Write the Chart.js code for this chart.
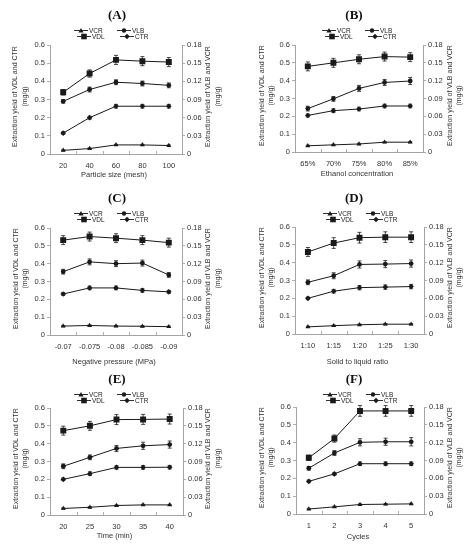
<!DOCTYPE html>
<html><head><meta charset="utf-8">
<script src="https://cdn.jsdelivr.net/npm/chart.js@4.4.1/dist/chart.umd.min.js"></script>
<style>
body{margin:0;background:#fff;width:473px;height:550px;overflow:hidden;position:relative;font-family:"Liberation Sans",Arial,sans-serif;color:#222}
.panel{position:absolute;width:236px;height:183px}
.panel canvas{position:absolute;left:0;top:0}
.ttl{position:absolute;width:60px;text-align:center;font-family:"Liberation Serif","Times New Roman",serif;font-weight:bold;font-size:13px;line-height:13px;color:#111}
.li{position:absolute;height:7px;font-size:6.5px;line-height:7px;white-space:nowrap;display:flex;align-items:center;color:#222}
.li svg{display:block;margin-right:1px}
</style></head>
<body>
<script>
// ---------- data ----------
const seriesNames = ['VCR', 'VLB', 'VDL', 'CTR'];
const panelTitles = ['(A)', '(B)', '(C)', '(D)', '(E)', '(F)'];
const xTitles = ['Particle size (mesh)', 'Ethanol concentration', 'Negative pressure (MPa)', 'Solid to liquid ratio', 'Time (min)', 'Cycles'];
const leftTitle = ['Extraction yield of VDL and CTR', '(mg/g)'];
const rightTitle = ['Extraction yield of VLB and VCR', '(mg/g)'];
const leftTicks = [0, 0.1, 0.2, 0.3, 0.4, 0.5, 0.6];
const rightTicks = [0, 0.03, 0.06, 0.09, 0.12, 0.15, 0.18];

// (A) particle size
const catsA = ['20', '40', '60', '80', '100'];
const vdlA = [0.34, 0.443, 0.518, 0.511, 0.506];
const vlbA = [0.087, 0.1065, 0.1185, 0.1164, 0.1134];
const ctrA = [0.115, 0.2, 0.263, 0.263, 0.263];
const vcrA = [0.006, 0.009, 0.015, 0.015, 0.014];
const vdlErrA = [0.015, 0.02, 0.025, 0.025, 0.025];
const vlbErrA = [0.003, 0.004, 0.004, 0.004, 0.004];
const ctrErrA = [0.007, 0.008, 0.01, 0.01, 0.01];
const vcrErrA = [0.001, 0.001, 0.001, 0.001, 0.001];

// (B) ethanol concentration
const catsB = ['65%', '70%', '75%', '80%', '85%'];
const vdlB = [0.48, 0.5, 0.52, 0.535, 0.532];
const vlbB = [0.073, 0.0894, 0.107, 0.117, 0.1194];
const ctrB = [0.205, 0.232, 0.241, 0.258, 0.258];
const vcrB = [0.0105, 0.012, 0.0135, 0.0165, 0.0165];
const vdlErrB = [0.025, 0.025, 0.025, 0.025, 0.025];
const vlbErrB = [0.004, 0.004, 0.005, 0.005, 0.006];
const ctrErrB = [0.008, 0.01, 0.01, 0.01, 0.01];
const vcrErrB = [0.001, 0.001, 0.001, 0.001, 0.001];

// (C) negative pressure
const catsC = ['-0.07', '-0.075', '-0.08', '-0.085', '-0.09'];
const vdlC = [0.532, 0.552, 0.543, 0.532, 0.518];
const vlbC = [0.1065, 0.123, 0.12, 0.121, 0.101];
const ctrC = [0.23, 0.264, 0.264, 0.25, 0.242];
const vcrC = [0.015, 0.016, 0.015, 0.0147, 0.014];
const vdlErrC = [0.025, 0.025, 0.025, 0.025, 0.025];
const vlbErrC = [0.004, 0.005, 0.005, 0.005, 0.004];
const ctrErrC = [0.008, 0.01, 0.01, 0.01, 0.008];
const vcrErrC = [0.001, 0.001, 0.001, 0.001, 0.001];

// (D) solid to liquid ratio
const catsD = ['1:10', '1:15', '1:20', '1:25', '1:30'];
const vdlD = [0.46, 0.51, 0.54, 0.543, 0.543];
const vlbD = [0.087, 0.098, 0.117, 0.1176, 0.1185];
const ctrD = [0.2, 0.24, 0.26, 0.263, 0.266];
const vcrD = [0.012, 0.014, 0.0156, 0.0165, 0.0165];
const vdlErrD = [0.025, 0.03, 0.03, 0.03, 0.03];
const vlbErrD = [0.004, 0.005, 0.006, 0.006, 0.006];
const ctrErrD = [0.007, 0.01, 0.012, 0.012, 0.012];
const vcrErrD = [0.001, 0.001, 0.001, 0.001, 0.001];

// (E) time
const catsE = ['20', '25', '30', '35', '40'];
const vdlE = [0.473, 0.5, 0.535, 0.536, 0.538];
const vlbE = [0.082, 0.097, 0.112, 0.1164, 0.1185];
const ctrE = [0.2, 0.232, 0.267, 0.267, 0.268];
const vcrE = [0.011, 0.013, 0.016, 0.017, 0.017];
const vdlErrE = [0.025, 0.025, 0.028, 0.028, 0.028];
const vlbErrE = [0.004, 0.004, 0.005, 0.006, 0.006];
const ctrErrE = [0.007, 0.01, 0.01, 0.01, 0.01];
const vcrErrE = [0.001, 0.001, 0.001, 0.001, 0.001];

// (F) cycles
const catsF = ['1', '2', '3', '4', '5'];
const vdlF = [0.315, 0.423, 0.578, 0.578, 0.578];
const vlbF = [0.077, 0.1026, 0.1206, 0.1215, 0.1215];
const ctrF = [0.183, 0.225, 0.282, 0.282, 0.282];
const vcrF = [0.0084, 0.012, 0.016, 0.0165, 0.017];
const vdlErrF = [0.015, 0.02, 0.03, 0.03, 0.03];
const vlbErrF = [0.003, 0.004, 0.006, 0.006, 0.007];
const ctrErrF = [0.007, 0.008, 0.01, 0.01, 0.01];
const vcrErrF = [0.001, 0.001, 0.001, 0.001, 0.001];

// ---------- layout ----------
const FONT = '"Liberation Sans", Arial, sans-serif';
const INK = '#1a1a1a';
const TXT = '#333';
const AXIS = '#9a9a9a';
const panels = [
  {cats: catsA, vdl: vdlA, vlb: vlbA, ctr: ctrA, vcr: vcrA, e: [vdlErrA, vlbErrA, ctrErrA, vcrErrA],
   x: 0, y: 0, L: 50, R: 182, T: 45, B: 154, lx: [15, 25], rx: [208, 218], xy: 175, legX: 74},
  {cats: catsB, vdl: vdlB, vlb: vlbB, ctr: ctrB, vcr: vcrB, e: [vdlErrB, vlbErrB, ctrErrB, vcrErrB],
   x: 237, y: 0, L: 58, R: 186, T: 45, B: 152, lx: [25, 34], rx: [213, 222], xy: 174, legX: 85},
  {cats: catsC, vdl: vdlC, vlb: vlbC, ctr: ctrC, vcr: vcrC, e: [vdlErrC, vlbErrC, ctrErrC, vcrErrC],
   x: 0, y: 183, L: 50, R: 182, T: 45, B: 152, lx: [16, 25], rx: [208, 218], xy: 179, legX: 74},
  {cats: catsD, vdl: vdlD, vlb: vlbD, ctr: ctrD, vcr: vcrD, e: [vdlErrD, vlbErrD, ctrErrD, vcrErrD],
   x: 237, y: 183, L: 58, R: 187, T: 44, B: 151, lx: [25, 34], rx: [213, 222], xy: 179, legX: 86},
  {cats: catsE, vdl: vdlE, vlb: vlbE, ctr: ctrE, vcr: vcrE, e: [vdlErrE, vlbErrE, ctrErrE, vcrErrE],
   x: 0, y: 364, L: 50, R: 183, T: 44, B: 151, lx: [16, 25], rx: [208, 218], xy: 172, legX: 74},
  {cats: catsF, vdl: vdlF, vlb: vlbF, ctr: ctrF, vcr: vcrF, e: [vdlErrF, vlbErrF, ctrErrF, vcrErrF],
   x: 237, y: 364, L: 59, R: 187, T: 43, B: 150, lx: [25, 34], rx: [213, 222], xy: 173, legX: 86}
];
const PW = 236, PH = 183;

const markerStyle = {
  VCR: {ps: 'triangle', r: 2.8},
  VLB: {ps: 'circle', r: 2.4},
  VDL: {ps: 'rect', r: 4.2},
  CTR: {ps: 'rectRot', r: 2.8}
};

const errPlugin = {
  id: 'errbars',
  afterDatasetsDraw(chart) {
    const ctx = chart.ctx;
    ctx.save();
    ctx.strokeStyle = INK; ctx.lineWidth = 0.8;
    chart.data.datasets.forEach((ds, di) => {
      if (!ds.err) return;
      const meta = chart.getDatasetMeta(di);
      const ys = chart.scales[ds.yAxisID];
      meta.data.forEach((pt, i) => {
        const v = ds.data[i], e = ds.err[i];
        const y1 = ys.getPixelForValue(v + e), y2 = ys.getPixelForValue(v - e);
        ctx.beginPath();
        ctx.moveTo(pt.x, y1); ctx.lineTo(pt.x, y2);
        ctx.moveTo(pt.x - 2, y1); ctx.lineTo(pt.x + 2, y1);
        ctx.moveTo(pt.x - 2, y2); ctx.lineTo(pt.x + 2, y2);
        ctx.stroke();
      });
    });
    ctx.restore();
  }
};

// inward x-axis tick marks at the category boundaries, plus axis titles
const titlePlugin = {
  id: 'axisTitles',
  afterDraw(chart, args, o) {
    const ctx = chart.ctx, ca = chart.chartArea;
    const xs = chart.scales.x;
    ctx.save();
    ctx.strokeStyle = AXIS; ctx.lineWidth = 0.8;
    const n = chart.data.labels.length;
    const half = (xs.getPixelForValue(1) - xs.getPixelForValue(0)) / 2;
    ctx.beginPath();
    for (let i = 0; i < n - 1; i++) {
      const px = Math.round(xs.getPixelForValue(i) + half) + 0.5;
      ctx.moveTo(px, ca.bottom); ctx.lineTo(px, ca.bottom - 3);
    }
    ctx.stroke();

    ctx.fillStyle = TXT; ctx.textAlign = 'center'; ctx.textBaseline = 'middle';
    ctx.font = '7px ' + FONT;
    const cy = (ca.top + ca.bottom) / 2 - 3;
    const items = [[o.lx[0], leftTitle[0]], [o.lx[1], leftTitle[1]], [o.rx[0], rightTitle[0]], [o.rx[1], rightTitle[1]]];
    items.forEach(([x, t]) => {
      ctx.save(); ctx.translate(x, cy); ctx.rotate(-Math.PI / 2); ctx.fillText(t, 0, 0); ctx.restore();
    });
    ctx.font = '7.5px ' + FONT;
    ctx.fillText(o.xt, (ca.left + ca.right) / 2 - 2, o.xy);
    ctx.restore();
  }
};

function fmt(v) { return String(Number(v.toFixed(2))); }

function markerSvg(name) {
  const c = 7, y = 3.5;
  let m = '';
  if (name === 'VCR') m = `<polygon points="${c},1 ${c + 2.6},5.4 ${c - 2.6},5.4" fill="${INK}"/>`;
  if (name === 'VLB') m = `<circle cx="${c}" cy="${y}" r="2.2" fill="${INK}"/>`;
  if (name === 'VDL') m = `<rect x="${c - 2.8}" y="${y - 2.8}" width="5.6" height="5.6" fill="${INK}"/>`;
  if (name === 'CTR') m = `<polygon points="${c},0.8 ${c + 2.7},${y} ${c},6.2 ${c - 2.7},${y}" fill="${INK}"/>`;
  return `<svg width="14" height="7" viewBox="0 0 14 7"><line x1="0" y1="${y}" x2="14" y2="${y}" stroke="${INK}" stroke-width="0.9"/>${m}</svg>`;
}

panels.forEach((p, idx) => {
  const div = document.createElement('div');
  div.className = 'panel';
  div.style.left = p.x + 'px'; div.style.top = p.y + 'px';
  document.body.appendChild(div);

  const cv = document.createElement('canvas');
  cv.width = PW; cv.height = PH;
  cv.style.width = PW + 'px'; cv.style.height = PH + 'px';
  div.appendChild(cv);

  const t = document.createElement('div');
  t.className = 'ttl'; t.textContent = panelTitles[idx];
  t.style.left = (117 - 30) + 'px'; t.style.top = '8px';
  div.appendChild(t);

  const legPos = {VCR: [p.legX, 27], VLB: [p.legX + 43, 27], VDL: [p.legX + 3, 33], CTR: [p.legX + 46, 33]};
  seriesNames.forEach(n => {
    const li = document.createElement('div');
    li.className = 'li';
    li.style.left = legPos[n][0] + 'px'; li.style.top = legPos[n][1] + 'px';
    li.innerHTML = markerSvg(n) + '<span>' + n + '</span>';
    div.appendChild(li);
  });

  const mk = (label, data, err, axis) => ({
    label, data, err, yAxisID: axis,
    borderColor: INK, backgroundColor: INK, borderWidth: 1,
    pointStyle: markerStyle[label].ps, pointRadius: markerStyle[label].r,
    pointBorderWidth: 0, pointBackgroundColor: INK, tension: 0, fill: false
  });

  const tickFont = {family: FONT, size: 7.5};
  new Chart(cv, {
    type: 'line',
    data: {
      labels: p.cats,
      datasets: [
        mk('VCR', p.vcr, p.e[3], 'y2'),
        mk('VLB', p.vlb, p.e[1], 'y2'),
        mk('VDL', p.vdl, p.e[0], 'y'),
        mk('CTR', p.ctr, p.e[2], 'y')
      ]
    },
    options: {
      responsive: false, animation: false, devicePixelRatio: window.devicePixelRatio || 1,
      layout: {padding: {top: p.T, left: 0, right: 0, bottom: 0}},
      plugins: {legend: {display: false}, title: {display: false}, tooltip: {enabled: false},
        axisTitles: {lx: p.lx, rx: p.rx, xy: p.xy, xt: xTitles[idx]}},
      scales: {
        x: {
          type: 'category', offset: true,
          grid: {display: true, drawOnChartArea: false, drawTicks: false, tickLength: 0, color: AXIS},
          border: {display: true, color: AXIS, width: 0.9},
          ticks: {font: tickFont, color: TXT, padding: 7, maxRotation: 0, autoSkip: false},
          afterFit(s) { s.height = PH - p.B; }
        },
        y: {
          position: 'left', min: leftTicks[0], max: leftTicks[leftTicks.length - 1],
          afterBuildTicks(s) { s.ticks = leftTicks.map(v => ({value: v})); },
          grid: {display: true, drawOnChartArea: false, tickLength: 3, color: AXIS, lineWidth: 0.8},
          border: {display: true, color: AXIS, width: 0.9},
          ticks: {font: tickFont, color: TXT, padding: 2, callback: v => fmt(v)},
          afterFit(s) { s.width = p.L; }
        },
        y2: {
          position: 'right', min: rightTicks[0], max: rightTicks[rightTicks.length - 1],
          afterBuildTicks(s) { s.ticks = rightTicks.map(v => ({value: v})); },
          grid: {display: true, drawOnChartArea: false, tickLength: 3, color: AXIS, lineWidth: 0.8},
          border: {display: true, color: AXIS, width: 0.9},
          ticks: {font: tickFont, color: TXT, padding: 2, callback: v => fmt(v)},
          afterFit(s) { s.width = PW - p.R; }
        }
      }
    },
    plugins: [errPlugin, titlePlugin]
  });
});
</script>
</body></html>
